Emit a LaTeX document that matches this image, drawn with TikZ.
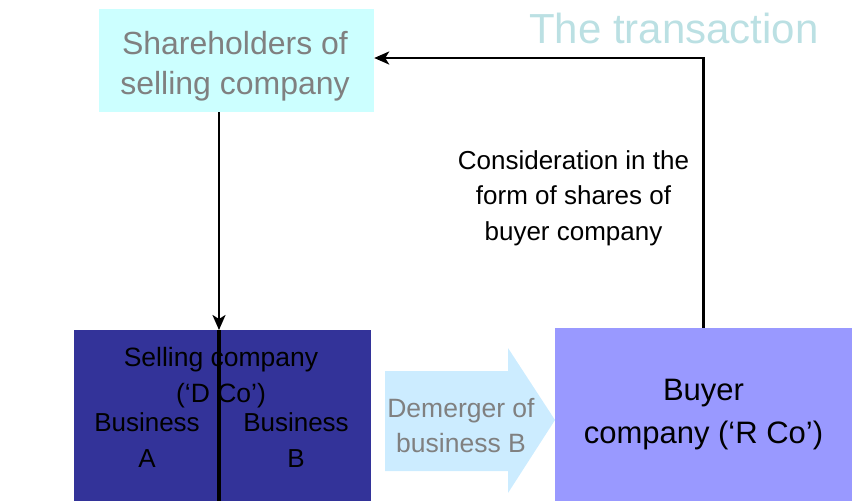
\documentclass[tikz,border=0pt]{standalone}
\usepackage{fontspec}
\setmainfont{Liberation Sans}
\usetikzlibrary{arrows.meta}
\definecolor{shareCyan}{HTML}{CCFFFF}
\definecolor{darkBlue}{HTML}{333399}
\definecolor{paleBlue}{HTML}{CCECFF}
\definecolor{lilac}{HTML}{9999FF}
\definecolor{titleTeal}{RGB}{187,224,227}
\definecolor{textGray}{HTML}{808080}

\begin{document}
\begin{tikzpicture}[x=1pt, y=-1pt,
  box/.style={inner sep=0pt, align=center},
  link/.style={line width=2.5pt, -{Stealth[length=15pt,width=13pt,inset=4pt]}}]
\useasboundingbox (0,0) rectangle (852,501);
\node [box, fill=shareCyan, minimum width=275pt, minimum height=103pt] (share) at (236.5,60.5) {};
\node [box, text=textGray, font=\fontsize{32}{40}\selectfont] (shareText) at (235,66) {Shareholders of\\selling company};
\node [box, fill=darkBlue, minimum width=297pt, minimum height=171pt] (dco) at (222.5,415.5) {};
\node [box, fill=lilac, minimum width=297pt, minimum height=173pt, font=\fontsize{31}{43}\selectfont] (buyer) at (703.5,414.5) {Buyer\\company (‘R Co’)};
\fill [paleBlue] (385,371) -- (508,371) -- (508,348) -- (555,420) -- (508,493) -- (508,471) -- (385,471) -- cycle;
\node [box, text=textGray, font=\fontsize{26.5}{35}\selectfont] (demerger) at (461,426) {Demerger of\\business B};
\node [box, font=\fontsize{26.5}{36}\selectfont] (dname) at (221,378) {Selling company\\(‘D Co’)};
\node [box, font=\fontsize{26}{36}\selectfont] (busA) at (147,440) {Business\\A};
\node [box, font=\fontsize{26}{36}\selectfont] (busB) at (296,440) {Business\\B};
\coordinate (split) at (219,330);
\coordinate (shareIn) at ([yshift=2.5pt]share.east);
\draw [line width=4pt] (split) -- (split |- dco.south);
\draw [link] (share.south -| split) -- (split);
\draw [link] (buyer.north) -- (buyer.north |- shareIn) -- (shareIn);
\node [box, font=\fontsize{26}{35.5}\selectfont] (consid) at (573.5,198) {Consideration in the\\form of shares of\\buyer company};
\node [text=titleTeal, font=\fontsize{42}{50}\selectfont] (title) at (674,28) {The transaction};
\end{tikzpicture}
\end{document}
